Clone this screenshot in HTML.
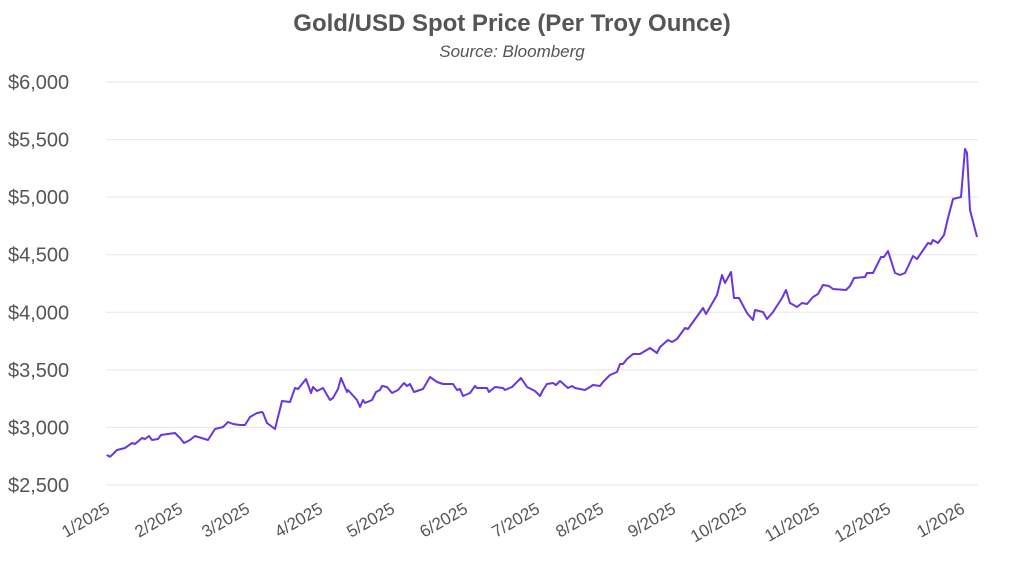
<!DOCTYPE html>
<html><head><meta charset="utf-8"><style>
html,body{margin:0;padding:0;background:#fff;}
svg{display:block;font-family:"Liberation Sans",sans-serif;}
</style></head><body>
<svg width="1024" height="567" viewBox="0 0 1024 567">
<text x="512" y="31" text-anchor="middle" font-size="24" font-weight="bold" fill="#555">Gold/USD Spot Price (Per Troy Ounce)</text>
<text x="512" y="57" text-anchor="middle" font-size="17" font-style="italic" fill="#555">Source: Bloomberg</text>
<g stroke="#e6e6ea" stroke-width="1">
<line x1="106" x2="978" y1="82" y2="82"/><line x1="106" x2="978" y1="139.6" y2="139.6"/>
<line x1="106" x2="978" y1="197.1" y2="197.1"/><line x1="106" x2="978" y1="254.7" y2="254.7"/>
<line x1="106" x2="978" y1="312.3" y2="312.3"/><line x1="106" x2="978" y1="369.9" y2="369.9"/>
<line x1="106" x2="978" y1="427.4" y2="427.4"/><line x1="106" x2="978" y1="485" y2="485"/>
</g>
<g font-size="20" fill="#555">
<text x="8" y="89">$6,000</text><text x="8" y="146.6">$5,500</text><text x="8" y="204.1">$5,000</text>
<text x="8" y="261.7">$4,500</text><text x="8" y="319.3">$4,000</text><text x="8" y="376.9">$3,500</text>
<text x="8" y="434.4">$3,000</text><text x="8" y="492">$2,500</text>
</g>
<g font-size="17" fill="#555" text-anchor="end">
<text transform="translate(111,512) rotate(-30)">1/2025</text>
<text transform="translate(184,512) rotate(-30)">2/2025</text>
<text transform="translate(251,512) rotate(-30)">3/2025</text>
<text transform="translate(324,512) rotate(-30)">4/2025</text>
<text transform="translate(396,512) rotate(-30)">5/2025</text>
<text transform="translate(469,512) rotate(-30)">6/2025</text>
<text transform="translate(541,512) rotate(-30)">7/2025</text>
<text transform="translate(605,512) rotate(-30)">8/2025</text>
<text transform="translate(677,512) rotate(-30)">9/2025</text>
<text transform="translate(748,512) rotate(-30)">10/2025</text>
<text transform="translate(821,512) rotate(-30)">11/2025</text>
<text transform="translate(892,512) rotate(-30)">12/2025</text>
<text transform="translate(966,512) rotate(-30)">1/2026</text>
</g>
<polyline fill="none" stroke="#6a35e0" stroke-width="2" stroke-linejoin="round" points="106.7,455 110,456.7 113,454 117,450 125,448 132,443 135,444 142,438 145,439 149,436 152,440 158,439 161,435 168,434 175,433 180,438 184,443 190,440 195,436 208,440 215,429 223,427 228,422 233,424 240,425 245,425 250,417 257,413 262,412 263,413 267,423 275,429 282,401 290,402 295,388 298,389 306,379 311,393 313,387 317,391 323,388 330,400 333,398 338,389 341,378 347,392 348,390 357,400 360,407 363,400 365,403 372,400 376,392 380,390 382,386 387,387 392,393 398,390 404,383 407,386 410,384 414,392 423,389 430,377 437,382 443,384 453,384 457,390 460,389 463,396 470,393 475,386 477,388 487,388 489,392 495,387 503,388 505,390 512,387 521,378 527,387 535,391 540,396 543,390 547,384 553,383 556,385 560,381 568,388 572,386 575,388 585,390 590,387 593,385 600,386 603,382 610,375 617,372 620,364 623,364 627,359 633,354 640,354 650,348 657,353 660,347 668,340 672,342 677,339 685,328 688,329 698,315 703,308 706,314 717,295 722,275 725,283 731,272 734,298 739,298 747,313 753,320 755,310 763,312 767,319 773,312 782,298 786,290 790,303 797,307 802,303 807,304 813,297 818,294 823,285 829,286 833,289 846,290 850,286 854,278 865,277 867,273 873,273 881,257 884,257 888,251 895,273 900,275 905,273 913,256 917,259 928,243 931,244 933,240 938,243 944,235 948,218 953,199 961,197 965,149 967,153 970,210 977,237"/>
</svg>
</body></html>
